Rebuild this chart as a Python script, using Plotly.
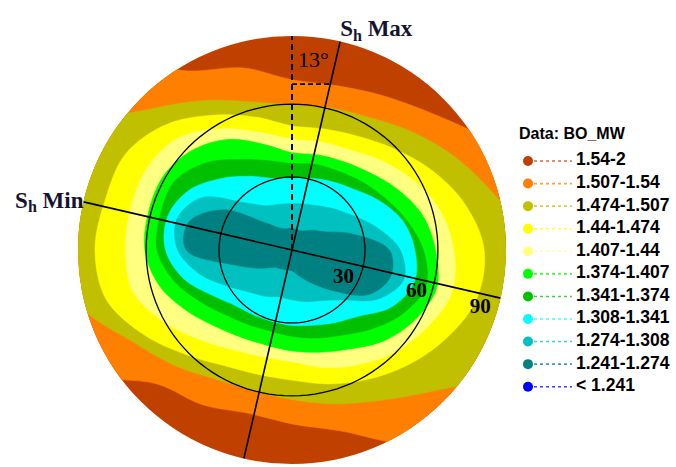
import math
import plotly.graph_objects as go

# ---------------------------------------------------------------------------
# Mud-weight classes (BO_MW), highest to lowest
class_labels = ["1.54-2", "1.507-1.54", "1.474-1.507", "1.44-1.474", "1.407-1.44",
                "1.374-1.407", "1.341-1.374", "1.308-1.341", "1.274-1.308",
                "1.241-1.274", "< 1.241"]
class_colors = ["#C04000", "#FF8000", "#C0C000", "#FFFF00", "#FFFF80",
                "#00FF00", "#00C000", "#00FFFF", "#00C0C0", "#008080", "#0000FF"]

# Azimuth grid (deg, clockwise from North)
azimuth = list(range(0, 360, 15))

# Inclination (deg) of the outer edge of each class along the azimuth grid
edge_154 = [90] * 24
edge_1507 = [70, 70, 73.5, 80, 92, 110, 110, 110, 110, 110, 92, 77,
             71.5, 69.5, 73.5, 78, 100, 110, 110, 110, 110, 110, 85, 77.5]
edge_1474 = [59.5, 60.5, 63, 69, 77, 86.5, 100, 105, 100, 82, 71.5, 65.5,
             61.5, 60, 61.5, 67.5, 75.5, 90, 100, 105, 100, 82, 71, 63]
edge_144 = [51, 51.5, 54, 59, 66, 73.5, 79, 78.5, 73, 67, 61.5, 57,
            53.5, 53, 55, 61, 70, 79, 81, 79.5, 79, 73, 64, 56.5]
edge_1407 = [45.5, 46, 47.5, 52, 57.5, 63, 66.5, 68, 64, 59.5, 54.5, 50,
             46, 45.5, 47.5, 52.5, 60, 67.5, 68.5, 68.5, 68.5, 65.5, 57.5, 50]
edge_1374 = [40, 40.5, 42, 45, 50, 55.5, 59, 61.5, 58, 53, 47, 43.5,
             41.5, 40.5, 41.5, 44.5, 50, 56.5, 60.5, 61, 61, 58, 52.5, 45]
edge_1341 = [35.5, 36.5, 37.5, 40, 43.5, 48.5, 54, 57, 52.5, 46, 40.5, 37.5,
             35.5, 34.5, 35.5, 38, 43, 50, 55.5, 56, 56, 50.5, 43, 38]
edge_1308 = [29.5, 30.5, 32.5, 35.5, 41, 47, 50.5, 52, 47, 38.5, 34.5, 32,
             31, 30.5, 31, 32.5, 37.5, 46, 52, 53, 49, 41.5, 35, 30.5]
edge_1274 = [19, 19.5, 21, 24, 28.5, 36, 44.5, 47.5, 40.5, 29, 24, 22,
             20.5, 20, 22, 24.5, 30, 39, 47, 49, 43, 27.5, 21, 19.5]
edge_1241 = [9, 8.5, 9, 11.5, 15, 25.5, 40, 42, 36.5, 23.5, 15.5, 11,
             8.5, 8.5, 9, 10, 15, 24, 43.5, 44, 33, 16, 10.5, 9]

class_edges = [edge_154, edge_1507, edge_1474, edge_144, edge_1407,
               edge_1374, edge_1341, edge_1308, edge_1274, edge_1241]

# Stereonet geometry
R_MAX = 88                 # outer inclination of the net
ring_incl = [30, 60]       # reference inclination circles
ring_text = ["30", "60", "90"]
ring_text_r = [24, 54, 81]
ring_text_az = [118, 108.5, 107]
SH_MAX_AZ = 13             # maximum horizontal stress azimuth
SH_MIN_AZ = SH_MAX_AZ + 90
ANGLE_MARK_INCL = 68.2     # where the 13 deg angle is marked

SERIF = "Liberation Serif"
SANS = "Liberation Sans"


def closed(seq):
    return list(seq) + [seq[0]]


fig = go.Figure()

# Filled mud-weight zones, outermost first
theta_closed = closed(azimuth)
for color, edge in zip(class_colors[:10], class_edges):
    fig.add_trace(go.Scatterpolar(
        r=closed(edge), theta=theta_closed, mode="lines", fill="toself",
        fillcolor=color, line=dict(color=color, width=0.6, shape="spline", smoothing=1),
        hoverinfo="skip", showlegend=False))

# Inclination circles
ring_theta = list(range(0, 361, 3))
for inc in ring_incl:
    fig.add_trace(go.Scatterpolar(
        r=[inc] * len(ring_theta), theta=ring_theta, mode="lines",
        line=dict(color="black", width=1.3), hoverinfo="skip", showlegend=False))

# Stress direction lines
fig.add_trace(go.Scatterpolar(
    r=[R_MAX, 0, R_MAX], theta=[SH_MAX_AZ, SH_MAX_AZ, SH_MAX_AZ + 180], mode="lines",
    line=dict(color="black", width=1.6), hoverinfo="skip", showlegend=False))
fig.add_trace(go.Scatterpolar(
    r=[R_MAX, 0, R_MAX], theta=[SH_MIN_AZ, SH_MIN_AZ, SH_MIN_AZ + 180], mode="lines",
    line=dict(color="black", width=1.6), hoverinfo="skip", showlegend=False))

# North reference (dashed) and the 13 deg angle marker
fig.add_trace(go.Scatterpolar(
    r=[0, R_MAX], theta=[0, 0], mode="lines",
    line=dict(color="black", width=2, dash="6px,4px"), hoverinfo="skip", showlegend=False))
fig.add_trace(go.Scatterpolar(
    r=[ANGLE_MARK_INCL, ANGLE_MARK_INCL / math.cos(math.radians(SH_MAX_AZ))],
    theta=[0, SH_MAX_AZ], mode="lines",
    line=dict(color="black", width=1.6, dash="5px,3px"), hoverinfo="skip", showlegend=False))
fig.add_trace(go.Scatterpolar(
    r=[R_MAX + 1.8], theta=[0], mode="markers", cliponaxis=False,
    marker=dict(symbol="line-ns", size=8, line=dict(color="#777777", width=1.2)),
    hoverinfo="skip", showlegend=False))

# Ring labels and the angle value
fig.add_trace(go.Scatterpolar(
    r=ring_text_r, theta=ring_text_az, mode="text", text=[f"<b>{t}</b>" for t in ring_text],
    textfont=dict(family=SERIF, size=21, color="black"), hoverinfo="skip", showlegend=False))
fig.add_trace(go.Scatterpolar(
    r=[78], theta=[6.5], mode="text", text=[f"{SH_MAX_AZ}°"],
    textfont=dict(family=SERIF, size=22, color="black"), hoverinfo="skip", showlegend=False))

# Direction captions outside the net
fig.add_trace(go.Scatterpolar(
    r=[R_MAX + 2.5], theta=[0], mode="text", text=["<b>N</b>"], textposition="top center",
    cliponaxis=False, textfont=dict(family=SERIF, size=23, color="#14142e"),
    hoverinfo="skip", showlegend=False))
fig.add_trace(go.Scatterpolar(
    r=[R_MAX], theta=[SH_MAX_AZ], mode="text", text=["<b>S<sub>h</sub> Max</b>"],
    textposition="top right", cliponaxis=False,
    textfont=dict(family=SERIF, size=23, color="#14142e"), hoverinfo="skip", showlegend=False))
fig.add_trace(go.Scatterpolar(
    r=[R_MAX], theta=[SH_MIN_AZ + 180], mode="text", text=["<b>S<sub>h</sub> Min</b>"],
    textposition="middle left", cliponaxis=False,
    textfont=dict(family=SERIF, size=23, color="#14142e"), hoverinfo="skip", showlegend=False))

# Class key: marker, dotted lead line and range text per class
rows = list(range(len(class_labels)))
KEY_MARK_X, KEY_LINE_END, KEY_TEXT_X = 13, 57, 61
for i, color in zip(rows, class_colors):
    fig.add_trace(go.Scatter(
        x=[KEY_MARK_X, KEY_LINE_END], y=[i, i], mode="lines",
        line=dict(color=color, width=1.6, dash="dot"), opacity=0.75,
        hoverinfo="skip", showlegend=False, xaxis="x", yaxis="y"))
fig.add_trace(go.Scatter(
    x=[KEY_MARK_X] * len(rows), y=rows, mode="markers",
    marker=dict(color=class_colors, size=10), hoverinfo="skip", showlegend=False))
fig.add_trace(go.Scatter(
    x=[KEY_TEXT_X] * len(rows), y=rows, mode="text",
    text=[f"<b>{t}</b>" for t in class_labels], textposition="middle right",
    textfont=dict(family=SANS, size=17.5, color="black"), hoverinfo="skip", showlegend=False))

W, H = 676, 467
fig.update_layout(
    width=W, height=H, margin=dict(l=0, r=0, t=0, b=0),
    paper_bgcolor="white", plot_bgcolor="white", showlegend=False,
    polar=dict(
        domain=dict(x=[78 / W, 506 / W], y=[3 / H, 431 / H]),
        bgcolor="white",
        radialaxis=dict(range=[0, R_MAX], visible=False),
        angularaxis=dict(rotation=90, direction="clockwise", visible=False),
    ),
    xaxis=dict(domain=[515 / W, 1], range=[0, 161], visible=False, fixedrange=True),
    yaxis=dict(domain=[67 / H, 347 / H], range=[10.589, -1.817], visible=False, fixedrange=True),
    annotations=[dict(
        x=2, y=-1.24, xref="x", yref="y", text="<b>Data: BO_MW</b>", showarrow=False,
        xanchor="left", yanchor="middle", font=dict(family=SANS, size=16, color="black"))],
)

fig.write_html("out.html")
